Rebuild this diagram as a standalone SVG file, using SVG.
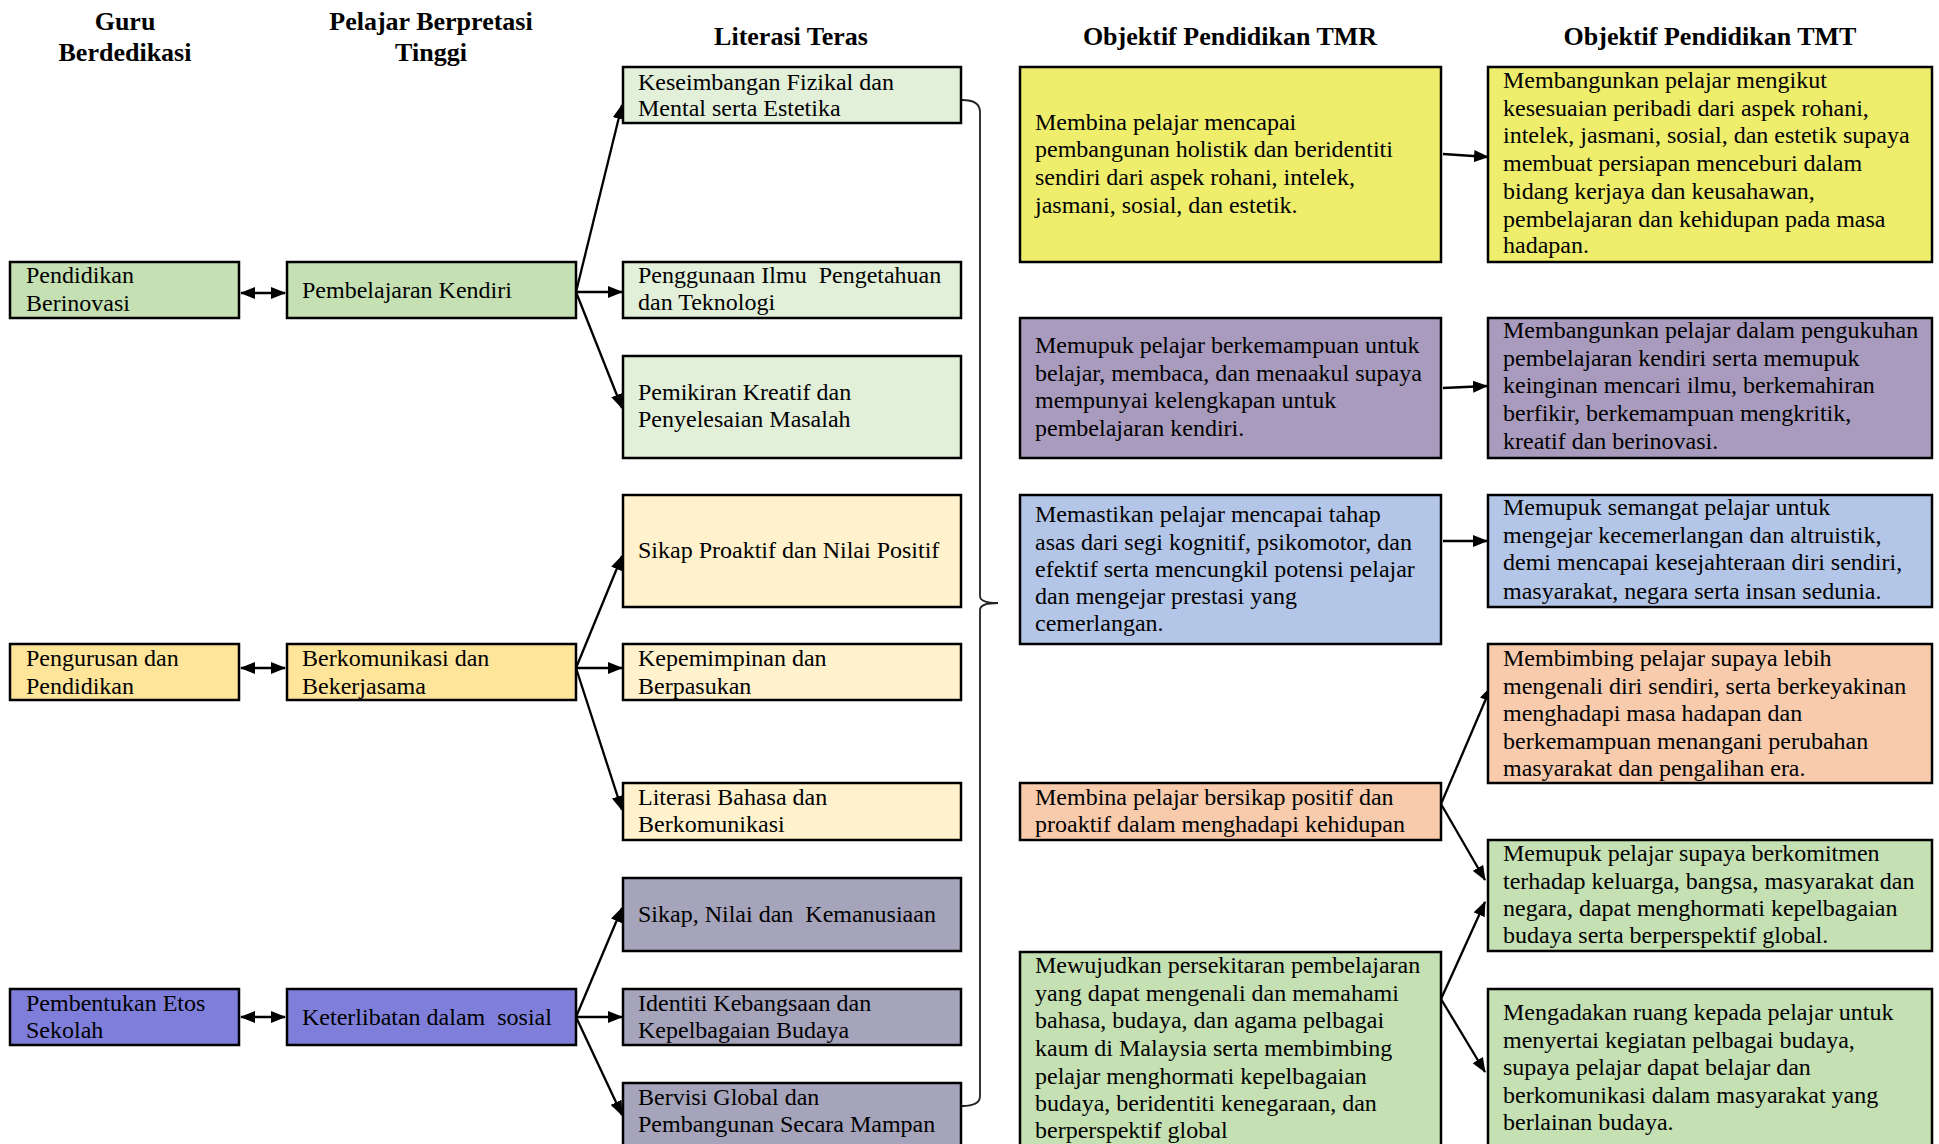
<svg xmlns="http://www.w3.org/2000/svg" width="1939" height="1144" viewBox="0 0 1939 1144">
<style>
text{font-family:"Liberation Serif","Times New Roman",serif;font-size:24px;fill:#000;white-space:pre}
.h{font-weight:bold;font-size:26px;text-anchor:middle}
.b{stroke:#000;stroke-width:2.5}
.c{stroke:#000;stroke-width:2.3;fill:none}
.g1{fill:#c5e0b3}.y1{fill:#ffe599}.p1{fill:#7f7fdb}
.g2{fill:#e2efd9}.y2{fill:#fff2cc}.p2{fill:#a5a4bb}
.ty{fill:#eeee6c}.tp{fill:#a99bbd}.tb{fill:#b4c6e7}.to{fill:#f8cbad}.tg{fill:#c5e0b3}
</style>
<defs>
<marker id="ah" markerUnits="userSpaceOnUse" markerWidth="15" markerHeight="12" refX="14" refY="6" orient="auto-start-reverse" viewBox="0 0 15 12">
<path d="M0,0 L15,6 L0,12 z" fill="#000"/>
</marker>
</defs>
<g id="headers">
<text class="h" x="125" y="30">Guru</text>
<text class="h" x="125" y="61">Berdedikasi</text>
<text class="h" x="431" y="30">Pelajar Berpretasi</text>
<text class="h" x="431" y="61">Tinggi</text>
<text class="h" x="791" y="45">Literasi Teras</text>
<text class="h" x="1230" y="45">Objektif Pendidikan TMR</text>
<text class="h" x="1710" y="45">Objektif Pendidikan TMT</text>
</g>
<g id="connectors">
<line class="c" x1="241" y1="293" x2="285" y2="293" marker-start="url(#ah)" marker-end="url(#ah)"/>
<line class="c" x1="241" y1="668" x2="285" y2="668" marker-start="url(#ah)" marker-end="url(#ah)"/>
<line class="c" x1="241" y1="1017" x2="285" y2="1017" marker-start="url(#ah)" marker-end="url(#ah)"/>
<line class="c" x1="576" y1="292" x2="622" y2="105" marker-end="url(#ah)"/>
<line class="c" x1="576" y1="292" x2="622" y2="292" marker-end="url(#ah)"/>
<line class="c" x1="576" y1="292" x2="622" y2="408" marker-end="url(#ah)"/>
<line class="c" x1="576" y1="668" x2="622" y2="556" marker-end="url(#ah)"/>
<line class="c" x1="576" y1="668" x2="622" y2="668" marker-end="url(#ah)"/>
<line class="c" x1="576" y1="668" x2="622" y2="810" marker-end="url(#ah)"/>
<line class="c" x1="576" y1="1017" x2="622" y2="908" marker-end="url(#ah)"/>
<line class="c" x1="576" y1="1017" x2="622" y2="1017" marker-end="url(#ah)"/>
<line class="c" x1="576" y1="1017" x2="622" y2="1115" marker-end="url(#ah)"/>
<path d="M962,100 Q980,100 980,112 L980,596 Q980,603 998,603 Q980,603 980,610 L980,1096 Q980,1106 962,1106" fill="none" stroke="#222" stroke-width="1.8"/>
<line class="c" x1="1443" y1="154" x2="1488" y2="157" marker-end="url(#ah)"/>
<line class="c" x1="1443" y1="388" x2="1487" y2="386" marker-end="url(#ah)"/>
<line class="c" x1="1443" y1="541" x2="1487" y2="541" marker-end="url(#ah)"/>
<line class="c" x1="1441" y1="804" x2="1491" y2="687" marker-end="url(#ah)"/>
<line class="c" x1="1441" y1="804" x2="1485" y2="880" marker-end="url(#ah)"/>
<line class="c" x1="1441" y1="999" x2="1485" y2="902" marker-end="url(#ah)"/>
<line class="c" x1="1441" y1="999" x2="1485" y2="1072" marker-end="url(#ah)"/>
</g>
<g id="guru1"><rect class="b g1" x="10" y="262" width="229" height="56"/><text x="26" y="283">Pendidikan</text><text x="26" y="311">Berinovasi</text></g>
<g id="guru2"><rect class="b y1" x="10" y="644" width="229" height="56"/><text x="26" y="666">Pengurusan dan</text><text x="26" y="694">Pendidikan</text></g>
<g id="guru3"><rect class="b p1" x="10" y="989" width="229" height="56"/><text x="26" y="1011">Pembentukan Etos</text><text x="26" y="1038">Sekolah</text></g>
<g id="pelajar1"><rect class="b g1" x="287" y="262" width="289" height="56"/><text x="302" y="298">Pembelajaran Kendiri</text></g>
<g id="pelajar2"><rect class="b y1" x="287" y="644" width="289" height="56"/><text x="302" y="666">Berkomunikasi dan</text><text x="302" y="694">Bekerjasama</text></g>
<g id="pelajar3"><rect class="b p1" x="287" y="989" width="289" height="56"/><text x="302" y="1025">Keterlibatan dalam  sosial</text></g>
<g id="lit1"><rect class="b g2" x="623" y="67" width="338" height="56"/><text x="638" y="90">Keseimbangan Fizikal dan</text><text x="638" y="116">Mental serta Estetika</text></g>
<g id="lit2"><rect class="b g2" x="623" y="262" width="338" height="56"/><text x="638" y="283">Penggunaan Ilmu  Pengetahuan</text><text x="638" y="310">dan Teknologi</text></g>
<g id="lit3"><rect class="b g2" x="623" y="356" width="338" height="102"/><text x="638" y="400">Pemikiran Kreatif dan</text><text x="638" y="427">Penyelesaian Masalah</text></g>
<g id="lit4"><rect class="b y2" x="623" y="495" width="338" height="112"/><text x="638" y="558">Sikap Proaktif dan Nilai Positif</text></g>
<g id="lit5"><rect class="b y2" x="623" y="644" width="338" height="56"/><text x="638" y="666">Kepemimpinan dan</text><text x="638" y="694">Berpasukan</text></g>
<g id="lit6"><rect class="b y2" x="623" y="783" width="338" height="57"/><text x="638" y="805">Literasi Bahasa dan</text><text x="638" y="832">Berkomunikasi</text></g>
<g id="lit7"><rect class="b p2" x="623" y="878" width="338" height="73"/><text x="638" y="922">Sikap, Nilai dan  Kemanusiaan</text></g>
<g id="lit8"><rect class="b p2" x="623" y="989" width="338" height="56"/><text x="638" y="1011">Identiti Kebangsaan dan</text><text x="638" y="1038">Kepelbagaian Budaya</text></g>
<g id="lit9"><rect class="b p2" x="623" y="1083" width="338" height="70"/><text x="638" y="1105">Bervisi Global dan</text><text x="638" y="1132">Pembangunan Secara Mampan</text></g>
<g id="tmr1"><rect class="b ty" x="1020" y="67" width="421" height="195"/><text x="1035" y="130">Membina pelajar mencapai</text><text x="1035" y="157">pembangunan holistik dan beridentiti</text><text x="1035" y="185">sendiri dari aspek rohani, intelek,</text><text x="1035" y="213">jasmani, sosial, dan estetik.</text></g>
<g id="tmr2"><rect class="b tp" x="1020" y="318" width="421" height="140"/><text x="1035" y="353">Memupuk pelajar berkemampuan untuk</text><text x="1035" y="381">belajar, membaca, dan menaakul supaya</text><text x="1035" y="408">mempunyai kelengkapan untuk</text><text x="1035" y="436">pembelajaran kendiri.</text></g>
<g id="tmr3"><rect class="b tb" x="1020" y="495" width="421" height="149"/><text x="1035" y="522">Memastikan pelajar mencapai tahap</text><text x="1035" y="550">asas dari segi kognitif, psikomotor, dan</text><text x="1035" y="577">efektif serta mencungkil potensi pelajar</text><text x="1035" y="604">dan mengejar prestasi yang</text><text x="1035" y="631">cemerlangan.</text></g>
<g id="tmr4"><rect class="b to" x="1020" y="783" width="421" height="57"/><text x="1035" y="805">Membina pelajar bersikap positif dan</text><text x="1035" y="832">proaktif dalam menghadapi kehidupan</text></g>
<g id="tmr5"><rect class="b tg" x="1020" y="952" width="421" height="200"/><text x="1035" y="973">Mewujudkan persekitaran pembelajaran</text><text x="1035" y="1001">yang dapat mengenali dan memahami</text><text x="1035" y="1028">bahasa, budaya, dan agama pelbagai</text><text x="1035" y="1056">kaum di Malaysia serta membimbing</text><text x="1035" y="1084">pelajar menghormati kepelbagaian</text><text x="1035" y="1111">budaya, beridentiti kenegaraan, dan</text><text x="1035" y="1138">berperspektif global</text></g>
<g id="tmt1"><rect class="b ty" x="1488" y="67" width="444" height="195"/><text x="1503" y="88">Membangunkan pelajar mengikut</text><text x="1503" y="116">kesesuaian peribadi dari aspek rohani,</text><text x="1503" y="143">intelek, jasmani, sosial, dan estetik supaya</text><text x="1503" y="171">membuat persiapan menceburi dalam</text><text x="1503" y="199">bidang kerjaya dan keusahawan,</text><text x="1503" y="227">pembelajaran dan kehidupan pada masa</text><text x="1503" y="253">hadapan.</text></g>
<g id="tmt2"><rect class="b tp" x="1488" y="318" width="444" height="140"/><text x="1503" y="338">Membangunkan pelajar dalam pengukuhan</text><text x="1503" y="366">pembelajaran kendiri serta memupuk</text><text x="1503" y="393">keinginan mencari ilmu, berkemahiran</text><text x="1503" y="421">berfikir, berkemampuan mengkritik,</text><text x="1503" y="449">kreatif dan berinovasi.</text></g>
<g id="tmt3"><rect class="b tb" x="1488" y="495" width="444" height="112"/><text x="1503" y="515">Memupuk semangat pelajar untuk</text><text x="1503" y="543">mengejar kecemerlangan dan altruistik,</text><text x="1503" y="570">demi mencapai kesejahteraan diri sendiri,</text><text x="1503" y="599">masyarakat, negara serta insan sedunia.</text></g>
<g id="tmt4"><rect class="b to" x="1488" y="644" width="444" height="139"/><text x="1503" y="666">Membimbing pelajar supaya lebih</text><text x="1503" y="694">mengenali diri sendiri, serta berkeyakinan</text><text x="1503" y="721">menghadapi masa hadapan dan</text><text x="1503" y="749">berkemampuan menangani perubahan</text><text x="1503" y="776">masyarakat dan pengalihan era.</text></g>
<g id="tmt5"><rect class="b tg" x="1488" y="840" width="444" height="111"/><text x="1503" y="861">Memupuk pelajar supaya berkomitmen</text><text x="1503" y="889">terhadap keluarga, bangsa, masyarakat dan</text><text x="1503" y="916">negara, dapat menghormati kepelbagaian</text><text x="1503" y="943">budaya serta berperspektif global.</text></g>
<g id="tmt6"><rect class="b tg" x="1488" y="989" width="444" height="163"/><text x="1503" y="1020">Mengadakan ruang kepada pelajar untuk</text><text x="1503" y="1048">menyertai kegiatan pelbagai budaya,</text><text x="1503" y="1075">supaya pelajar dapat belajar dan</text><text x="1503" y="1103">berkomunikasi dalam masyarakat yang</text><text x="1503" y="1130">berlainan budaya.</text></g>
</svg>
